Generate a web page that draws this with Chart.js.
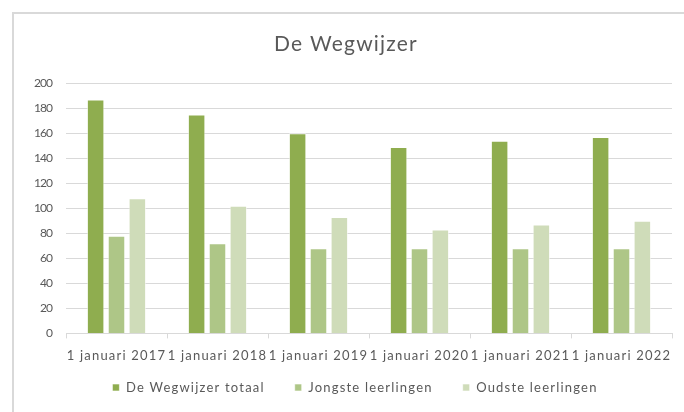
<!DOCTYPE html>
<html>
<head>
<meta charset="utf-8">
<script src="https://cdn.jsdelivr.net/npm/chart.js@4/dist/chart.umd.min.js"></script>
<style>
  html, body { margin: 0; padding: 0; background: #fff; }
  #wrap { position: relative; width: 684px; height: 412px; overflow: hidden; }
  #frame { position: absolute; left: 12px; top: 12px; width: 700px; height: 420px;
           border-left: 2px solid #d9d9d9; border-top: 2px solid #d9d9d9; box-sizing: border-box; }
  canvas { position: absolute; left: 0; top: 0; }
</style>
</head>
<body>
<div id="wrap">
  <div id="frame"></div>
  <canvas id="chart" width="684" height="412"></canvas>
</div>
<script>
'use strict';

// categories + series
var categories = ['1 januari 2017', '1 januari 2018', '1 januari 2019', '1 januari 2020', '1 januari 2021', '1 januari 2022'];
var totaal = [187, 175, 160, 149, 154, 157];
var jongste = [78, 72, 68, 68, 68, 68];
var oudste = [108, 102, 93, 83, 87, 90];
var yTicks = [0, 20, 40, 60, 80, 100, 120, 140, 160, 180, 200];

var grey = '#595959';
var font = 'Lato, "Open Sans", sans-serif';

Chart.defaults.font.family = font;
Chart.defaults.color = grey;

// the source text is drawn wide; y labels narrower (drawn after the bars, see ticks.z)
var spacing = {
    id: 'spacing',
    beforeUpdate: chart => { chart.ctx.letterSpacing = '1.2px'; },
    beforeDraw: chart => { chart.ctx.letterSpacing = '1.2px'; },
    afterDatasetsDraw: chart => { chart.ctx.letterSpacing = '-1px'; },
    afterDraw: chart => { chart.ctx.letterSpacing = '0px'; }
};

function bars(label, data, color) {
    return {
        label: label,
        data: data,
        backgroundColor: color,
        borderColor: 'rgba(255,255,255,0.6)',
        borderWidth: 1,
        categoryPercentage: 0.62,
        barPercentage: 0.84
    };
}

var chart = new Chart(document.getElementById('chart'), {
    type: 'bar',
    data: {
        labels: categories,
        datasets: [
            bars('De Wegwijzer totaal', totaal, '#8fad4f'),
            bars('Jongste leerlingen', jongste, '#aec687'),
            bars('Oudste leerlingen', oudste, '#cfdcb9')
        ]
    },
    plugins: [spacing],
    options: {
        responsive: false,
        animation: false,
        layout: { padding: { left: 20, right: 12, top: 32, bottom: 12 } },
        plugins: {
            title: {
                display: true,
                text: 'De Wegwijzer',
                color: grey,
                font: { size: 21, weight: 'normal' },
                padding: { top: 0, bottom: 26 }
            },
            legend: {
                position: 'bottom',
                labels: {
                    boxWidth: 7,
                    boxHeight: 7,
                    padding: 30,
                    color: grey,
                    font: { size: 13 }
                }
            },
            tooltip: { enabled: false }
        },
        scales: {
            x: {
                grid: { drawOnChartArea: false, drawTicks: true, tickLength: 5, color: '#d9d9d9', offset: true },
                border: { color: '#d9d9d9' },
                ticks: { autoSkip: false, maxRotation: 0, minRotation: 0, color: grey, font: { size: 13 }, padding: 10 }
            },
            y: {
                min: 0,
                max: 200,
                afterBuildTicks: s => { s.ticks = yTicks.map(v => ({ value: v })); },
                afterFit: s => { s.width = 46; },
                grid: { color: '#d9d9d9', drawTicks: false },
                border: { display: false },
                ticks: { color: grey, font: { size: 12 }, padding: 14, z: 1 }
            }
        }
    }
});

// legend: wide gaps between items but a short box, like the source
var legendFit = chart.legend.fit;
chart.legend.fit = function() { legendFit.call(this); this.height = 26; };
var legendDraw = chart.legend.draw;
chart.legend.draw = function() {
    var top = this.top, left = this.left, right = this.right;
    this.top -= 23;
    this.left += 9;
    this.right += 9;
    legendDraw.call(this);
    this.top = top;
    this.left = left;
    this.right = right;
};
chart.update();
</script>
</body>
</html>
